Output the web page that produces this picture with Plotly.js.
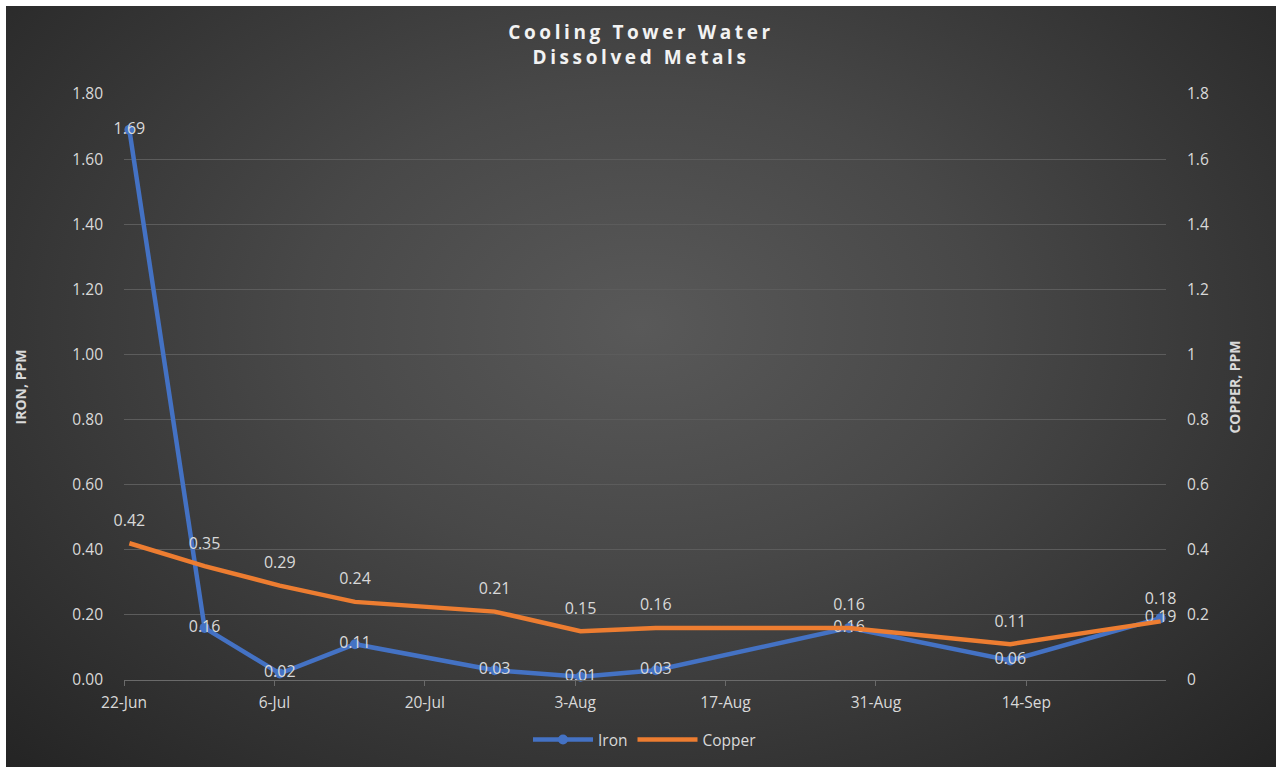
<!DOCTYPE html>
<html>
<head>
<meta charset="utf-8">
<script src="https://cdn.plot.ly/plotly-3.0.1.min.js"></script>
<style>
  html, body { margin: 0; padding: 0; background: #ffffff; width: 1276px; height: 767px; overflow: hidden; }
  #chart {
    position: absolute; left: 6px; top: 6px; width: 1270px; height: 761px;
    background: radial-gradient(ellipse at 50% 42%, #595959 0%, #484848 38%, #343434 72%, #242424 100%);
  }
  .gtitle { letter-spacing: 3.6px; }
</style>
</head>
<body>
<div id="chart"></div>
<script>
// Sample dates
const dates = ['2019-06-22', '2019-06-29', '2019-07-06', '2019-07-13', '2019-07-26',
               '2019-08-03', '2019-08-10', '2019-08-28', '2019-09-12', '2019-09-26'];
const iron   = [1.69, 0.16, 0.02, 0.11, 0.03, 0.01, 0.03, 0.16, 0.06, 0.19];
const copper = [0.42, 0.35, 0.29, 0.24, 0.21, 0.15, 0.16, 0.16, 0.11, 0.18];
const seriesNames = ['Iron', 'Copper'];
const titleLines = ['Cooling Tower Water', 'Dissolved Metals'];
const leftAxisTitle = 'IRON, PPM';
const rightAxisTitle = 'COPPER, PPM';

// Excel date axis: points sit in the middle of each day
const xs = dates.map(d => d + ' 12:00');
const txt = '#d9d9d9';
const font = 'Open Sans, Noto Sans, sans-serif';

const traces = [
  {
    x: xs, y: iron, name: seriesNames[0], type: 'scatter', mode: 'lines+markers+text',
    yaxis: 'y',
    line: { color: '#4472C4', width: 4.5 },
    marker: { color: '#4472C4', size: 10 },
    text: iron.map(v => v.toFixed(2)),
    textposition: 'middle center',
    textfont: { color: txt, size: 16, family: font },
    cliponaxis: false
  },
  {
    x: xs, y: copper, name: seriesNames[1], type: 'scatter', mode: 'lines+markers+text',
    yaxis: 'y2',
    line: { color: '#ED7D31', width: 4.5 },
    marker: { color: 'rgba(0,0,0,0)', size: 20 },
    text: copper.map(v => v.toFixed(2)),
    textposition: 'top center',
    textfont: { color: txt, size: 16, family: font },
    cliponaxis: false
  }
];

const layout = {
  width: 1270, height: 761,
  paper_bgcolor: 'rgba(0,0,0,0)',
  plot_bgcolor: 'rgba(0,0,0,0)',
  margin: { l: 118, r: 110, t: 88, b: 87 },
  font: { family: font, color: txt, size: 15 },
  title: {
    text: '<b>' + titleLines.join('<br>') + '</b>',
    x: 0.5, xanchor: 'center', yref: 'container', y: 1 - 33 / 761, yanchor: 'middle',
    font: { size: 19, color: '#f2f2f2', family: font }
  },
  xaxis: {
    type: 'date',
    range: ['2019-06-22', '2019-09-27'],
    tick0: '2019-06-22', dtick: 14 * 86400000,
    tickformat: '%-d-%b',
    showgrid: false,
    showline: true, linecolor: '#6a6a6a', linewidth: 1,
    ticks: 'outside', ticklen: 5, tickcolor: '#6a6a6a', ticklabelstandoff: 3,
    tickfont: { size: 15.5, color: txt },
    zeroline: false
  },
  yaxis: {
    range: [0, 1.8], dtick: 0.2, tick0: 0,
    tickformat: '.2f',
    gridcolor: '#5c5c5c', gridwidth: 1,
    zeroline: false, showline: false,
    ticks: '', ticklabelstandoff: 20,
    tickfont: { size: 15.5, color: txt },
    title: { text: '<b>' + leftAxisTitle + '</b>', font: { size: 14, color: txt }, standoff: 42 }
  },
  yaxis2: {
    overlaying: 'y', side: 'right',
    range: [0, 1.8], dtick: 0.2, tick0: 0,
    showgrid: false, zeroline: false, showline: false,
    ticks: '', ticklabelstandoff: 20,
    tickfont: { size: 15.5, color: txt },
    title: { text: '<b>' + rightAxisTitle + '</b>', font: { size: 14, color: txt }, standoff: 22 }
  },
  showlegend: true,
  legend: {
    orientation: 'h', x: 0.5, xanchor: 'center', yref: 'container', y: 27 / 761, yanchor: 'middle',
    font: { size: 15.5, color: txt }, bgcolor: 'rgba(0,0,0,0)', itemwidth: 60
  }
};

Plotly.newPlot('chart', traces, layout, { displayModeBar: false, staticPlot: true });
</script>
</body>
</html>
